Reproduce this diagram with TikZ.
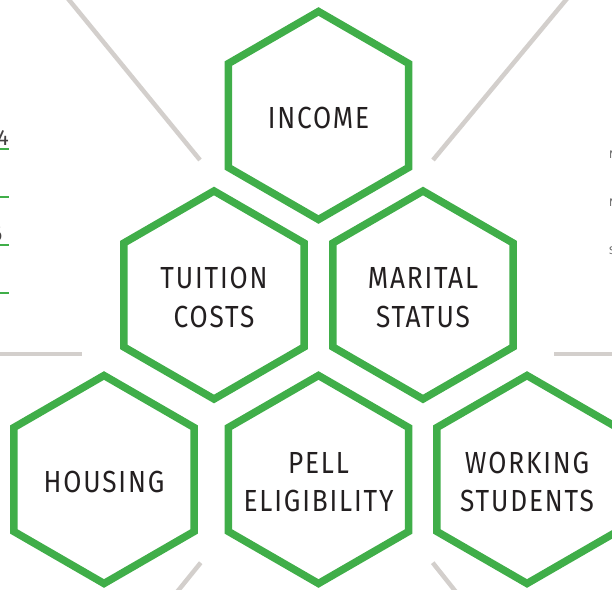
\documentclass[tikz,border=0pt]{standalone}
\usepackage{fontspec}
\setmainfont{Fira Sans}
\newfontfamily\hexfont{Fira Sans}[FakeStretch=0.86, LetterSpace=6]
\usetikzlibrary{shapes.geometric}
\definecolor{hexgreen}{RGB}{64,174,73}
\definecolor{rulegray}{RGB}{211,207,204}
\definecolor{textdark}{RGB}{35,31,32}
\tikzset{
  hexbox/.style={regular polygon, regular polygon sides=6, shape border rotate=30,
    draw=hexgreen, line width=7.5pt, minimum size=208pt, inner sep=0pt},
  hexlabel/.style={inner sep=0pt, align=center, text=textdark, yshift=-2.5pt,
    font=\hexfont\fontsize{30.5}{38.5}\selectfont},
  spoke/.style={draw=rulegray, line width=4.5pt},
  tick/.style={draw=hexgreen, line width=2pt},
  edgetext/.style={inner sep=0pt, text=textdark!85, font=\fontsize{22}{22}\selectfont},
  sidetext/.style={inner sep=0pt, text=black!60, font=\fontsize{11}{11}\selectfont}
}
\begin{document}
\begin{tikzpicture}[x=1pt,y=-1pt]
\useasboundingbox (0,0) rectangle (612,589);
\clip (0,0) rectangle (612,589);
% background spokes
\draw[spoke] (65,-5) -- (200,160);
\draw[spoke] (570,-5) -- (433,160);
\draw[spoke] (-5,354) -- (82,354);
\draw[spoke] (554,354) -- (617,354);
\draw[spoke] (200.7,562.7) -- (177,592);
\draw[spoke] (432.7,562.7) -- (456,592);
% hexagons
\node[hexbox] (income)  at (318.5,115.5) {};
\node[hexbox] (tuition) at (214,295) {};
\node[hexbox] (marital) at (423,295) {};
\node[hexbox] (housing) at (104,479.5) {};
\node[hexbox] (pell)    at (318.5,479.5) {};
\node[hexbox] (working) at (527,479.5) {};
% hexagon texts
\node[hexlabel] (incomeT)  at (income.center)  {INCOME};
\node[hexlabel] (tuitionT) at (tuition.center) {TUITION\\COSTS};
\node[hexlabel] (maritalT) at (marital.center) {MARITAL\\STATUS};
\node[hexlabel] (housingT) at (housing.center) {HOUSING};
\node[hexlabel] (pellT)    at (pell.center)    {PELL\\ELIGIBILITY};
\node[hexlabel] (workingT) at (working.center) {WORKING\\STUDENTS};
% left edge fragments
\node[edgetext, anchor=base east] (leftA) at (9,145.5) {4};
\node[edgetext, anchor=base east] (leftB) at (2.5,241) {6};
\draw[tick] (-1,149) -- (9,149);
\draw[tick] (-1,197) -- (9,197);
\draw[tick] (-1,245) -- (9,245);
\draw[tick] (-1,293) -- (9,293);
% right edge fragments
\node[sidetext, anchor=base west] (rightA) at (609,158.3) {N};
\node[sidetext, anchor=base west] (rightB) at (609,206.7) {N};
\node[sidetext, anchor=base west] (rightC) at (609,254.3) {S};
\end{tikzpicture}
\end{document}
